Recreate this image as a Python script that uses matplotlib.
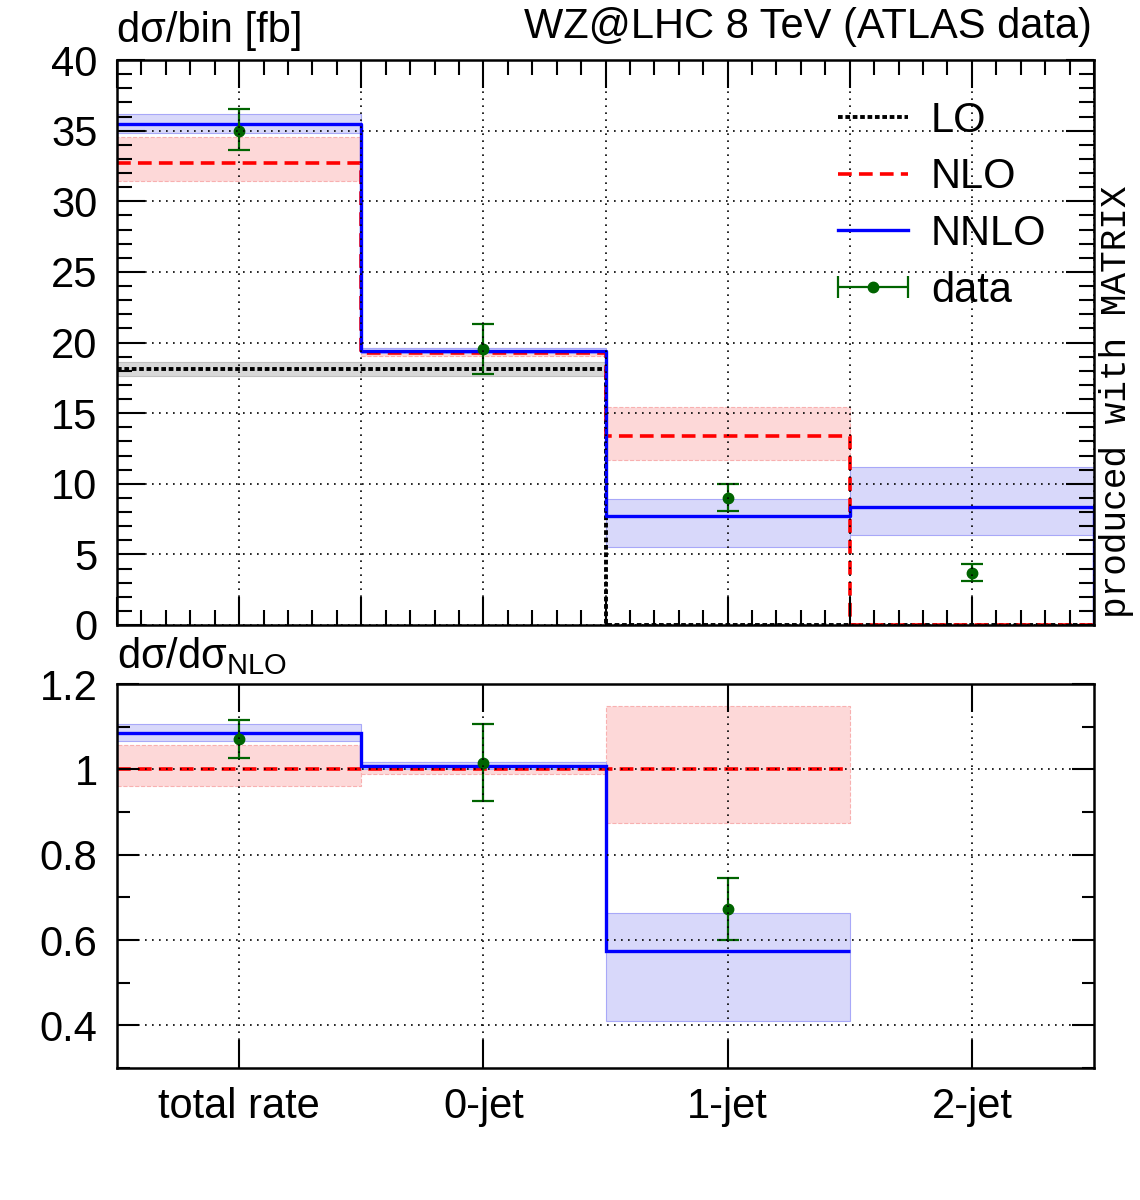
import numpy as np
import matplotlib
matplotlib.use("Agg")
import matplotlib.pyplot as plt
from matplotlib.ticker import MultipleLocator, FuncFormatter
from matplotlib.container import ErrorbarContainer
from matplotlib.legend_handler import HandlerErrorbar

plt.rcParams['font.family'] = ['Liberation Sans', 'DejaVu Sans']

# bins: total rate, 0-jet, 1-jet, 2-jet
labels = ["total rate", "0-jet", "1-jet", "2-jet"]
edges = np.array([0, 1, 2, 3, 4])

lo = np.array([18.1, 18.1, 0.0, 0.0])
lo_up = np.array([18.6, 18.6])
lo_dn = np.array([17.6, 17.6])

nlo = np.array([32.7, 19.25, 13.4, 0.0])
nlo_up = np.array([34.57, 19.6, 15.4])
nlo_dn = np.array([31.45, 19.05, 11.7])

nnlo = np.array([35.5, 19.4, 7.7, 8.35])
nnlo_up = np.array([36.2, 19.6, 8.9, 11.2])
nnlo_dn = np.array([34.85, 19.25, 5.5, 6.35])

data = np.array([35.0, 19.55, 9.0, 3.7])
data_up = np.array([36.5, 21.3, 10.0, 4.32])
data_dn = np.array([33.6, 17.8, 8.05, 3.08])

centers = 0.5 * (edges[:-1] + edges[1:])

c_lo_band = "#d8d8d8"
c_nlo_band = "#fdd8d8"
c_nnlo_band = "#d8d8fa"
green = "#006400"
fs = 30

fig = plt.figure(figsize=(11.4, 12), dpi=100)
ax1 = fig.add_axes([117/1140, 1-625/1200, 977/1140, 565/1200])
ax2 = fig.add_axes([117/1140, 1-1068/1200, 977/1140, 384/1200])


def step_xy(vals):
    xs = np.r_[edges, edges[-1]]
    ys = np.r_[vals, vals[-1], 0.0]
    return xs, ys


def bands(ax, up, dn, face, edge, ls):
    n = len(up)
    ax.bar(centers[:n], up - dn, bottom=dn, width=1.0, color=face,
           edgecolor=edge, linewidth=0.8, linestyle=ls, zorder=1)


lw = 2.4
red_dash = (0, (3.8, 2.0))
black_dot = (0, (1.2, 0.7))

# ---- top panel ----
bands(ax1, lo_up, lo_dn, c_lo_band, "#c0c0c0", "-")
bands(ax1, nlo_up, nlo_dn, c_nlo_band, "#f8b0b0", "--")
bands(ax1, nnlo_up, nnlo_dn, c_nnlo_band, "#a8a8f8", "-")

ax1.step(*step_xy(lo), where="post", color="black", lw=2.8, ls=black_dot, zorder=2, label="LO")
ax1.step(*step_xy(nlo), where="post", color="red", lw=2.6, ls=red_dash, zorder=2, label="NLO")
ax1.step(*step_xy(nnlo), where="post", color="blue", lw=lw, zorder=2, label="NNLO")

ax1.errorbar(centers, data, yerr=[data - data_dn, data_up - data], fmt="o", color=green,
             ms=7.5, elinewidth=1.6, capsize=8, capthick=1.6, zorder=2)
proxy = ax1.errorbar([np.nan], [np.nan], xerr=[1], fmt="o", color=green,
                     ms=7.5, elinewidth=1.6, capsize=8, capthick=1.6, label="data")

ax1.set_xlim(0, 4)
ax1.set_ylim(0, 40)
ax1.xaxis.set_major_locator(MultipleLocator(0.5))
ax1.xaxis.set_minor_locator(MultipleLocator(0.1))
ax1.yaxis.set_major_locator(MultipleLocator(5))
ax1.yaxis.set_minor_locator(MultipleLocator(1))
ax1.set_xticklabels([])

handles, lbls = ax1.get_legend_handles_labels()
leg = ax1.legend(handles, lbls, loc="upper left", bbox_to_anchor=(0.738, 0.928),
                 frameon=False, fontsize=fs, handlelength=1.68, handletextpad=0.55,
                 labelspacing=0.4, borderpad=0, borderaxespad=0,
                 handler_map={ErrorbarContainer: HandlerErrorbar(xerr_size=0.84)})

# ---- ratio panel ----
nr = 3
r_nlo_up = nlo_up / nlo[:nr]
r_nlo_dn = nlo_dn / nlo[:nr]
r_nnlo = nnlo[:nr] / nlo[:nr]
r_nnlo_up = nnlo_up[:nr] / nlo[:nr]
r_nnlo_dn = nnlo_dn[:nr] / nlo[:nr]
r_data = data[:nr] / nlo[:nr]
r_data_up = data_up[:nr] / nlo[:nr]
r_data_dn = data_dn[:nr] / nlo[:nr]

bands(ax2, r_nlo_up, r_nlo_dn, c_nlo_band, "#f8b0b0", "--")
bands(ax2, r_nnlo_up, r_nnlo_dn, c_nnlo_band, "#a8a8f8", "-")
ax2.stairs(np.ones(nr), edges[:nr+1], baseline=None, color="red", lw=2.6, ls=red_dash, zorder=2)
ax2.stairs(r_nnlo, edges[:nr+1], baseline=None, color="blue", lw=lw, zorder=2)
ax2.errorbar(centers[:nr], r_data, yerr=[r_data - r_data_dn, r_data_up - r_data], fmt="o",
             color=green, ms=7.5, elinewidth=1.6, capsize=8, capthick=1.6, zorder=2)

ax2.set_xlim(0, 4)
ax2.set_ylim(0.3, 1.2)
ax2.set_xticks(centers)
ax2.set_xticklabels(labels)
ax2.yaxis.set_major_locator(MultipleLocator(0.2))
ax2.yaxis.set_minor_locator(MultipleLocator(0.1))
ax2.yaxis.set_major_formatter(FuncFormatter(lambda v, p: "%g" % round(v, 3)))

for ax in (ax1, ax2):
    ax.set_axisbelow(False)
    ax.grid(True, which="major", color="black", lw=1.2, ls=(0, (1, 3.2)))
    ax.tick_params(which="both", direction="in", top=True, right=True, labelsize=fs, width=1.5)
    ax.tick_params(which="major", length=20, pad=14)
    ax.tick_params(which="minor", length=11)
    ax.tick_params(axis="x", pad=14)
    for s in ax.spines.values():
        s.set_linewidth(1.8)
ax2.tick_params(axis="y", which="major", length=16)
ax2.tick_params(axis="y", which="minor", length=9)

fig.text(117/1140, 1-42/1200, "dσ/bin [fb]", fontsize=fs, ha="left", va="baseline")
fig.text(1092/1140, 1-38/1200, "WZ@LHC 8 TeV (ATLAS data)", fontsize=fs, ha="right", va="baseline")
fig.text(117/1140, 1-668/1200, r"dσ/dσ$_{\mathregular{NLO}}$", fontsize=fs, ha="left", va="baseline")
fig.text(1116/1140, 1-402/1200, "produced with MATRIX", fontsize=26, rotation=90,
         family="Liberation Mono", ha="center", va="center")

fig.savefig("out.png", dpi=100)
